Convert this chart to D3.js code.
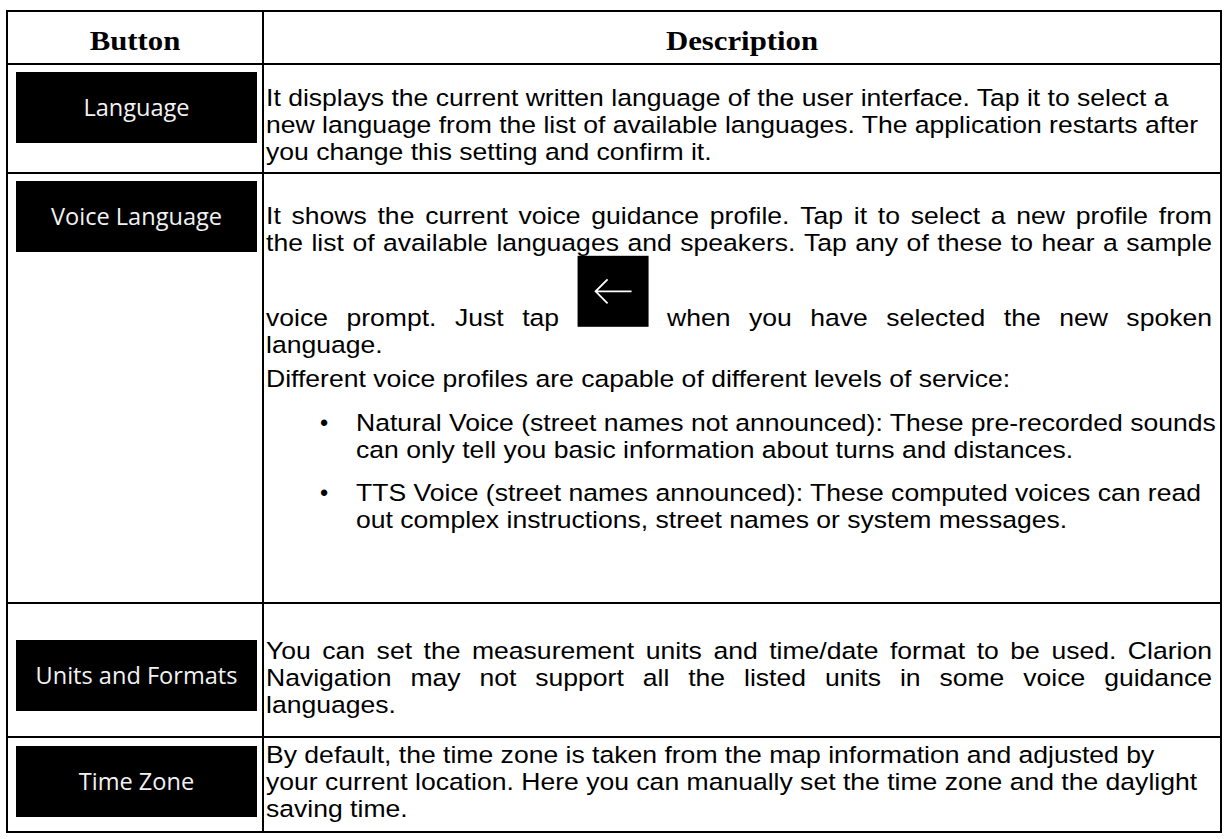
<!DOCTYPE html>
<html><head><meta charset="utf-8">
<script src="https://cdn.jsdelivr.net/npm/d3@7/dist/d3.min.js"></script>
<style>html,body{margin:0;padding:0;background:#fff;overflow:hidden}svg{display:block}</style>
</head><body>
<svg id="c" width="1229" height="839"></svg>
<script>
// ---------------- data ----------------
const headers = ["Button", "Description"];
const buttonLabels = ["Language", "Voice Language", "Units and Formats", "Time Zone"];
const ICON = "[back]";
const languageLines = [
  "It displays the current written language of the user interface. Tap it to select a",
  "new language from the list of available languages. The application restarts after",
  "you change this setting and confirm it."
];
const voiceIntroLines = [
  "It shows the current voice guidance profile. Tap it to select a new profile from",
  "the list of available languages and speakers. Tap any of these to hear a sample",
  "voice prompt. Just tap " + ICON + " when you have selected the new spoken",
  "language."
];
const voiceServiceLine = "Different voice profiles are capable of different levels of service:";
const voiceBullets = [
  ["Natural Voice (street names not announced): These pre-recorded sounds",
   "can only tell you basic information about turns and distances."],
  ["TTS Voice (street names announced): These computed voices can read",
   "out complex instructions, street names or system messages."]
];
const unitsLines = [
  "You can set the measurement units and time/date format to be used. Clarion",
  "Navigation may not support all the listed units in some voice guidance",
  "languages."
];
const timeZoneLines = [
  "By default, the time zone is taken from the map information and adjusted by",
  "your current location. Here you can manually set the time zone and the daylight",
  "saving time."
];

// ---------------- layout ----------------
const W = 1229, H = 839;
const SX = 1.14;                 // horizontal stretch of the page image
const bodyFont = "'Liberation Sans', Arial, Helvetica, sans-serif";
const headFont = "'Liberation Serif', 'Times New Roman', serif";
const btnFont = "'Open Sans', 'Noto Sans', sans-serif";
const bodySize = 23.3, headSize = 27, L = 26.8;
const tableLeft = 7, tableRight = 1221, colSplit = 263;
const rowEdges = [11, 64, 173, 603, 737, 832];
const textX = 266, textRight = 1212, justifyW = textRight - textX;
const btnX = 16, btnW = 241, btnH = 71, iconSize = 71;
const btnTop = [72, 181, 640, 746];

const svg = d3.select("#c");
svg.append("rect").attr("width", W).attr("height", H).attr("fill", "#fff");

const measurer = svg.append("text").attr("visibility", "hidden");
function textWidth(str, font, size, weight) {
  measurer.attr("font-family", font).attr("font-size", size).attr("font-weight", weight || "normal").text(str);
  return measurer.node().getComputedTextLength();
}

function drawIcon(x, baseline) {
  const top = baseline - iconSize + 1;
  svg.append("rect").attr("x", x).attr("y", top).attr("width", iconSize).attr("height", iconSize).attr("fill", "#000");
  const cy = top + iconSize / 2, p = d3.path();
  p.moveTo(x + 18, cy); p.lineTo(x + 54, cy);
  p.moveTo(x + 30, cy - 12); p.lineTo(x + 18, cy); p.lineTo(x + 30, cy + 12);
  svg.append("path").attr("d", p.toString()).attr("fill", "none").attr("stroke", "#fff").attr("stroke-width", 1.8);
}

function bodyLine(x, y, str, justify) {
  const t = svg.append("text")
    .attr("transform", `translate(${x},${y}) scale(${SX},1)`)
    .attr("font-family", bodyFont).attr("font-size", bodySize).attr("fill", "#000");
  if (!justify) { t.text(str); return; }
  const words = str.split(" ");
  const ws = words.map(w => w === ICON ? iconSize / SX : textWidth(w, bodyFont, bodySize));
  const gap = (justifyW / SX - d3.sum(ws)) / (words.length - 1);
  let cx = 0;
  words.forEach((w, i) => {
    if (w === ICON) drawIcon(x + cx * SX, y);
    else t.append("tspan").attr("x", cx).text(i < words.length - 1 ? w + " " : w);
    cx += ws[i] + gap;
  });
}

// header
const colCenters = [(tableLeft + colSplit) / 2, (colSplit + tableRight) / 2];
headers.forEach((h, i) => {
  svg.append("text")
    .attr("transform", `translate(${colCenters[i]},50) scale(${SX},1)`)
    .attr("text-anchor", "middle").attr("font-family", headFont)
    .attr("font-weight", "bold").attr("font-size", headSize).attr("fill", "#000").text(h);
});

// buttons
const btnSize = 100 * 202 / textWidth("Units and Formats", btnFont, 100);
buttonLabels.forEach((b, i) => {
  svg.append("rect").attr("x", btnX).attr("y", btnTop[i]).attr("width", btnW).attr("height", btnH).attr("fill", "#000");
  svg.append("text").attr("x", btnX + btnW / 2).attr("y", btnTop[i] + btnH / 2 + btnSize * 0.36)
    .attr("text-anchor", "middle").attr("font-family", btnFont).attr("font-size", btnSize)
    .attr("fill", "#f2f2f2").text(b);
});

// row 1: Language
languageLines.forEach((s, i) => bodyLine(textX, 106 + i * L, s, false));

// row 2: Voice Language
let y = 224;
voiceIntroLines.forEach((s, i) => {
  if (s.includes(ICON)) y += iconSize + 4 - L;
  bodyLine(textX, y, s, i < voiceIntroLines.length - 1);
  y += L;
});
y += 8;
bodyLine(textX, y, voiceServiceLine, false);
y += L + 17;
voiceBullets.forEach(lines => {
  svg.append("text").attr("x", 320).attr("y", y).attr("font-family", bodyFont)
    .attr("font-size", bodySize).attr("fill", "#000").text("\u2022");
  lines.forEach((s, j) => { bodyLine(356, y, s, false); y += L; });
  y += 16;
});

// row 3: Units and Formats
unitsLines.forEach((s, i) => bodyLine(textX, 659 + i * L, s, i < unitsLines.length - 1));

// row 4: Time Zone
timeZoneLines.forEach((s, i) => bodyLine(textX, 763 + i * L, s, false));

// grid
const g = svg.append("g").attr("stroke", "#000").attr("stroke-width", 2).attr("fill", "none");
g.append("rect").attr("x", tableLeft).attr("y", rowEdges[0]).attr("width", tableRight - tableLeft).attr("height", rowEdges[rowEdges.length - 1] - rowEdges[0]);
g.append("line").attr("x1", colSplit).attr("x2", colSplit).attr("y1", rowEdges[0]).attr("y2", rowEdges[rowEdges.length - 1]);
rowEdges.slice(1, -1).forEach(e => g.append("line").attr("x1", tableLeft).attr("x2", tableRight).attr("y1", e).attr("y2", e));
measurer.remove();
</script>
</body></html>
